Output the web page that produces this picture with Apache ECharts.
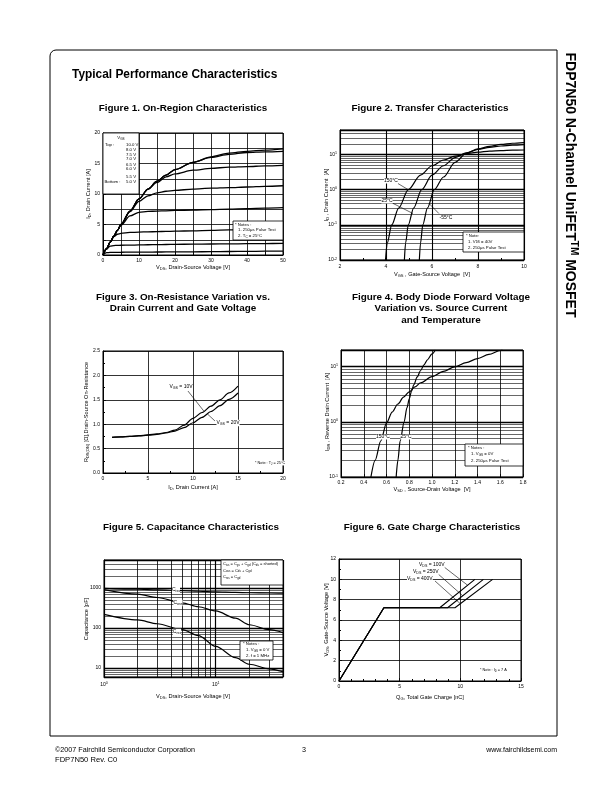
<!DOCTYPE html>
<html><head><meta charset="utf-8">
<script src="https://cdn.jsdelivr.net/npm/echarts@6/dist/echarts.min.js"></script>
<style>html,body{margin:0;padding:0;background:#fff}#c{width:612px;height:792px}</style>
</head><body><div id="c"></div>
<script>
// ---------------- DATA ----------------
// Figure 1: On-region characteristics (VDS [V] vs ID [A]) for each VGS
const f1Vds   = [0,1,2,3,4,5,7.5,10,12.5,15,17.5,20,25,30,35,40,45,50];
const f1Id10  = [0,1.05,2.1,3.1,4.05,5.0,7.2,9.2,10.8,12.1,13.1,14.0,15.2,16.1,16.7,17.0,17.2,17.4];
const f1Id8   = [0,1.05,2.1,3.1,4.05,5.0,7.2,9.2,10.8,12.1,13.1,14.0,15.2,16.0,16.5,16.8,16.9,17.0];
const f1Id75  = [0,1.05,2.1,3.1,4.05,5.0,7.2,9.2,10.8,11.9,12.8,13.3,13.9,14.2,14.4,14.5,14.6,14.7];
const f1Id7   = [0,1.05,2.1,3.1,4.05,5.0,7.1,8.8,9.7,10.2,10.45,10.6,10.8,10.95,11.05,11.15,11.25,11.35];
const f1Id65  = [0,1.05,2.1,3.1,4.05,4.9,6.4,7.0,7.15,7.2,7.25,7.3,7.38,7.45,7.52,7.6,7.68,7.75];
const f1Id6   = [0,1.05,2.1,3.0,3.4,3.55,3.7,3.75,3.8,3.83,3.87,3.9,3.97,4.05,4.12,4.2,4.28,4.35];
const f1Id55  = [0,1.0,1.45,1.55,1.58,1.6,1.62,1.65,1.68,1.7,1.72,1.75,1.78,1.8,1.83,1.85,1.88,1.9];
const f1Id5   = [0,0.38,0.42,0.43,0.44,0.45,0.46,0.47,0.48,0.49,0.5,0.5,0.52,0.55,0.57,0.6,0.62,0.65];
const f1Legend = ['10.0 V','8.0 V','7.5 V','7.0 V','6.5 V','6.0 V','5.5 V','5.0 V'];

// Figure 2: Transfer characteristics (VGS [V] vs ID [A])
const f2Vgs150 = [3.98,4.05,4.25,4.55,4.97,5.5,6,6.5,7,7.5,8,8.5,9,9.5,10];
const f2Id150  = [0.01,0.03,0.1,0.3,1,2.6,4.8,7,9,10.6,11.7,12.5,13,13.3,13.5];
const f2Vgs25  = [4.8,4.85,4.97,5.2,5.55,6,6.5,7,7.5,8,8.5,9,9.5,10];
const f2Id25   = [0.01,0.03,0.1,0.3,1,2.6,4.8,8.2,11.2,14,16,17.5,18.5,19.2];
const f2VgsM55 = [5.45,5.5,5.6,5.8,6.1,6.5,7,7.5,8,8.5,9,9.5,10];
const f2IdM55  = [0.01,0.03,0.1,0.3,1,2.3,6,11,14.5,17,19.5,21,22];

// Figure 3: On-resistance vs drain current
const f3Id    = [1,2,3,4,5,6,7,8,9,10,11,12,13,14,15];
const f3R10   = [0.73,0.74,0.75,0.765,0.78,0.80,0.83,0.88,0.98,1.12,1.24,1.37,1.50,1.64,1.78];
const f3R20   = [0.73,0.74,0.75,0.76,0.775,0.79,0.82,0.86,0.93,1.03,1.14,1.26,1.38,1.51,1.64];

// Figure 4: Body diode forward voltage (VSD [V] vs IDR [A])
const f4Vsd150 = [0.463,0.5,0.55,0.6,0.65,0.7,0.75,0.8,0.85,0.9,1.0,1.1,1.2,1.3,1.4,1.5,1.6,1.62];
const f4I150   = [0.1,0.2,0.45,0.95,1.5,2.1,2.8,3.5,4.3,5.1,6.6,8.2,9.9,11.8,14,16.6,19.6,20];
const f4Vsd25  = [0.685,0.70,0.72,0.755,0.78,0.80,0.82,0.84,0.87,0.9,0.93,0.96,1.0,1.03];
const f4I25    = [0.1,0.2,0.45,1.0,1.8,2.6,3.6,4.7,6.5,8.5,10.8,13.3,17,20];

// Figure 5: Capacitance (VDS [V] vs C [pF])
const f5Vds  = [1,2,3,5,7,10,15,20,30,40];
const f5Ciss = [980,930,900,860,830,800,780,760,750,740];
const f5Coss = [910,700,580,427,340,267,176,121,91,77];
const f5Crss = [220,160,128,91,65,35,18.3,12.5,9.6,8.1];

// Figure 6: Gate charge (QG [nC] vs VGS [V])
const f6Q100 = [0,3.7,8.3,11.2];
const f6Q250 = [0,3.7,8.95,11.9];
const f6Q400 = [0,3.7,9.56,12.66];
const f6Vgs  = [0,7.2,7.2,10];

// ---------------- CHART ----------------
const FONT = '"Liberation Sans", Arial, Helvetica, sans-serif';
const chart = echarts.init(document.getElementById('c'), null, {renderer:'canvas', width:612, height:792});

const gridBoxes = [
  {left:103, top:133, width:180, height:122},
  {left:340, top:130, width:184, height:130},
  {left:103, top:351, width:180, height:122},
  {left:341, top:350, width:182, height:127},
  {left:104, top:560, width:179, height:117},
  {left:339, top:559, width:182, height:122}
];
const grids = gridBoxes.map(g => Object.assign({show:true, borderColor:'#000', borderWidth:1, backgroundColor:'#fff', containLabel:false, outerBoundsMode:'none'}, g));

function merge(a, b) {
  const out = Object.assign({}, a);
  for (const k in b) {
    if (b[k] && typeof b[k] === 'object' && !Array.isArray(b[k]) && a[k] && typeof a[k] === 'object') out[k] = merge(a[k], b[k]);
    else out[k] = b[k];
  }
  return out;
}
const supRich = {p:{fontSize:3.6, fontFamily:FONT, color:'#000', padding:[0,0,3,0]}};
function axis(type, gi, o) {
  return merge({
    type, gridIndex: gi,
    axisLine: {show:true, onZero:false, lineStyle:{color:'#000', width:1}},
    axisTick: {show:true, inside:true, length:3, lineStyle:{color:'#000', width:0.8}},
    axisLabel: {color:'#000', fontSize:5, fontFamily:FONT, margin:3, rich: supRich, showMinLabel:true, showMaxLabel:true},
    splitLine: {show:true, lineStyle:{color:'#000', width:0.8}},
    minorTick: {show:false},
    minorSplitLine: {show:false}
  }, o);
}
function pow10(v) { const e = Math.log10(v); const r = Math.round(e); return Math.abs(e - r) < 1e-6 ? r : null; }
const supFmt = v => { const r = pow10(v); return r === null ? '' : '10{p|' + r + '}'; };
const plainPowFmt = v => { const r = pow10(v); return r === null ? '' : String(Math.round(v)); };

const xAxes = [
  axis('value', 0, {min:0, max:50, interval:5, axisLabel:{formatter: v => (Math.round(v) % 10 === 0 ? String(v) : '')}}),
  axis('value', 1, {min:2, max:10, interval:2, minorTick:{show:true, splitNumber:2, length:2, lineStyle:{color:'#000'}}, axisLabel:{margin:4}, splitLine:{lineStyle:{width:1.1}}}),
  axis('value', 2, {min:0, max:20, interval:5, minorTick:{show:true, splitNumber:2, length:2, lineStyle:{color:'#000'}}}),
  axis('value', 3, {min:0.2, max:1.8, interval:0.2, axisLabel:{formatter: v => v.toFixed(1)}}),
  axis('log', 4, {min:1, max:40, logBase:10, axisLabel:{formatter: supFmt, margin:4}, splitLine:{lineStyle:{width:1.2}}}),
  axis('value', 5, {min:0, max:15, interval:5, minorTick:{show:true, splitNumber:5, length:2, lineStyle:{color:'#000'}}})
];
const yAxes = [
  axis('value', 0, {min:0, max:20, interval:2.5, axisLabel:{formatter: v => (Math.abs(v % 5) < 1e-9 ? String(v) : '')}}),
  axis('log', 1, {min:0.01, max:50, logBase:10, axisLabel:{formatter: supFmt}, splitLine:{lineStyle:{width:1.3}}}),
  axis('value', 2, {min:0, max:2.5, interval:0.5, minorTick:{show:true, splitNumber:2, length:2, lineStyle:{color:'#000'}}, axisLabel:{formatter: v => v.toFixed(1)}}),
  axis('log', 3, {min:0.1, max:20, logBase:10, axisLabel:{formatter: supFmt}, splitLine:{lineStyle:{width:1.3}}}),
  axis('log', 4, {min:6, max:5000, logBase:10, axisLabel:{formatter: plainPowFmt}, splitLine:{lineStyle:{width:1.3}}}),
  axis('value', 5, {min:0, max:12, interval:2, minorTick:{show:true, splitNumber:2, length:2, lineStyle:{color:'#000'}}})
];

const series = [];
function addLine(gi, xs, ys, extra) {
  series.push(merge({
    type:'line', xAxisIndex:gi, yAxisIndex:gi,
    data: xs.map((x, i) => [x, ys[i]]),
    showSymbol:false, symbol:'none', smooth:0.3, smoothMonotone:'x',
    lineStyle:{color:'#000', width:1.2}, silent:true, z:5, animation:false,
    emphasis:{disabled:true}
  }, extra || {}));
}
function logMinors(min, max) {
  const out = [];
  for (let e = Math.floor(Math.log10(min)); e <= Math.ceil(Math.log10(max)); e++) {
    for (let k = 2; k <= 9; k++) {
      const v = +(k * Math.pow(10, e)).toPrecision(3);
      if (v > min * 1.0001 && v < max * 0.9999) out.push(v);
    }
  }
  return out;
}
function addMinorGrid(gi, dim, vals, anchor, width) {
  series.push({
    type:'line', xAxisIndex:gi, yAxisIndex:gi, data:[anchor], showSymbol:false, symbol:'none',
    lineStyle:{width:0}, silent:true, z:2, animation:false, emphasis:{disabled:true},
    markLine:{silent:true, symbol:['none','none'], label:{show:false}, animation:false,
      lineStyle:{color:'#000', width:width, type:'solid', opacity:1}, emphasis:{disabled:true},
      data: vals.map(v => ({[dim]: v}))}
  });
}

// Figure 1
[f1Id10, f1Id8, f1Id75, f1Id7, f1Id65, f1Id6, f1Id55, f1Id5].forEach(ys => addLine(0, f1Vds, ys, {lineStyle:{width:1.3}}));
// Figure 2
addMinorGrid(1, 'yAxis', logMinors(0.01, 50), [2, 0.01], 0.6);
addLine(1, f2Vgs150, f2Id150);
addLine(1, f2Vgs25, f2Id25);
addLine(1, f2VgsM55, f2IdM55);
// Figure 3
addLine(2, f3Id, f3R10);
addLine(2, f3Id, f3R20);
// Figure 4
addMinorGrid(3, 'yAxis', logMinors(0.1, 20), [0.2, 0.1], 0.6);
addLine(3, f4Vsd150, f4I150);
addLine(3, f4Vsd25, f4I25);
// Figure 5
addMinorGrid(4, 'yAxis', logMinors(6, 5000), [1, 6], 0.6);
addMinorGrid(4, 'xAxis', logMinors(1, 40), [1, 6], 0.8);
addLine(4, f5Vds, f5Ciss);
addLine(4, f5Vds, f5Coss);
addLine(4, f5Vds, f5Crss);
// Figure 6
[f6Q100, f6Q250, f6Q400].forEach(xs => addLine(5, xs, f6Vgs, {smooth:false, lineStyle:{width:1.1}}));

chart.setOption({
  animation:false,
  backgroundColor:'#fff',
  textStyle:{fontFamily:FONT},
  grid: grids, xAxis: xAxes, yAxis: yAxes, series
});

// ---------------- ANNOTATIONS ----------------
function richFor(fs) {
  return {
    s:{fontSize:fs*0.72, fontFamily:FONT, fill:'#000', padding:[fs*0.5,0,0,0]},
    p:{fontSize:fs*0.72, fontFamily:FONT, fill:'#000', padding:[0,0,fs*0.5,0]}
  };
}
function richBold(fs) {
  const r = richFor(fs);
  r.p.fontWeight = 'bold'; r.s.fontWeight = 'bold';
  return r;
}
function txt(x, y, text, fs, o) {
  o = o || {};
  return {
    type:'text', x:x, y:y, rotation:o.rot || 0, z:100, silent:true,
    style:{text:text, x:0, y:0, fontSize:fs, fontFamily:FONT, fontWeight:o.bold ? 'bold' : 'normal',
      fill:'#000', align:o.align || 'left', verticalAlign:o.va || 'middle',
      backgroundColor:o.bg, padding:o.pad, rich:o.bold ? richBold(fs) : richFor(fs)}
  };
}
function box(x, y, w, h, r) {
  return {type:'rect', z:90, silent:true, shape:{x:x, y:y, width:w, height:h, r:r || 0},
    style:{fill:'#fff', stroke:'#000', lineWidth:0.8}};
}
function lineP(p1, p2, w) {
  return {type:'line', z:95, silent:true, shape:{x1:p1[0], y1:p1[1], x2:p2[0], y2:p2[1]},
    style:{stroke:'#000', lineWidth:w || 0.6}};
}
const D = (gi, x, y) => chart.convertToPixel({gridIndex: gi}, [x, y]);
const ROT = Math.PI / 2;
const g = [];

// page frame and headings
g.push({type:'rect', z:1, silent:true, shape:{x:50, y:50, width:507, height:686, r:[6,0,0,0]},
  style:{fill:'none', stroke:'#000', lineWidth:1}});
g.push(txt(72, 75, 'Typical Performance Characteristics', 11.9, {bold:true}));
g.push(txt(570, 185, 'FDP7N50 N-Channel UniFET{p|TM} MOSFET', 14, {bold:true, rot:-ROT, align:'center'}));

const figTitles = [
  [183, 108, ['Figure 1. On-Region Characteristics']],
  [430, 108, ['Figure 2. Transfer Characteristics']],
  [183, 297, ['Figure 3. On-Resistance Variation vs.', 'Drain Current and Gate Voltage']],
  [441, 297, ['Figure 4. Body Diode Forward Voltage', 'Variation vs. Source Current', 'and Temperature']],
  [191, 527, ['Figure 5. Capacitance Characteristics']],
  [432, 527, ['Figure 6. Gate Charge Characteristics']]
];
figTitles.forEach(([x, y, lines]) => lines.forEach((t, i) => g.push(txt(x, y + i * 11.5, t, 9.9, {bold:true, align:'center'}))));

// axis names
const AN = 5.6;
g.push(txt(88, 194, 'I{s|D}, Drain Current [A]', AN, {rot:ROT, align:'center'}));
g.push(txt(193, 267, 'V{s|DS}, Drain-Source Voltage [V]', AN, {align:'center'}));
g.push(txt(326, 195, 'I{s|D} , Drain Current  [A]', AN, {rot:ROT, align:'center'}));
g.push(txt(432, 274, 'V{s|GS} , Gate-Source Voltage  [V]', AN, {align:'center'}));
g.push(txt(86, 412, 'R{s|DS(ON)} [Ω],Drain-Source On-Resistance', AN, {rot:ROT, align:'center'}));
g.push(txt(193, 487, 'I{s|D}, Drain Current [A]', AN, {align:'center'}));
g.push(txt(327, 412, 'I{s|DR} , Reverse Drain Current  [A]', AN, {rot:ROT, align:'center'}));
g.push(txt(432, 489, 'V{s|SD} , Source-Drain Voltage  [V]', AN, {align:'center'}));
g.push(txt(86, 619, 'Capacitance [pF]', AN, {rot:ROT, align:'center'}));
g.push(txt(193, 696, 'V{s|DS}, Drain-Source Voltage [V]', AN, {align:'center'}));
g.push(txt(326, 620, 'V{s|GS}, Gate-Source Voltage [V]', AN, {rot:ROT, align:'center'}));
g.push(txt(430, 697, 'Q{s|G}, Total Gate Charge [nC]', AN, {align:'center'}));

const NF = 4.3;
// Fig 1 legend + notes
g.push(box(103, 133, 36, 61));
g.push(txt(121, 138, 'V{s|GS}', NF, {align:'center'}));
g.push(txt(105, 145, 'Top :', NF));
const f1LegY = [145, 149.5, 155, 158.8, 165, 169, 177, 182.3];
f1Legend.forEach((t, i) => g.push(txt(126, f1LegY[i], t, NF)));
g.push(txt(104.5, 182.3, 'Bottom :', NF));
g.push(box(233, 221, 50, 19));
g.push(txt(235, 224.5, '* Notes :', NF));
g.push(txt(238, 230, '1. 250μs Pulse Test', NF));
g.push(txt(238, 236, '2. T{s|C} = 25°C', NF));

// Fig 2 labels + notes
g.push(txt(391, 181, '150°C', 5, {align:'center', bg:'#fff'}));
g.push(lineP(D(1, 4.52, 1.5), D(1, 4.97, 1.0)));
g.push(txt(387, 201, '25°C', 5, {align:'center', bg:'#fff'}));
g.push(lineP(D(1, 4.3, 0.41), D(1, 5.17, 0.21)));
g.push(txt(446, 218, '-55°C', 5, {align:'center', bg:'#fff'}));
g.push(lineP(D(1, 6.3, 0.21), D(1, 5.88, 0.4)));
g.push(box(463, 232, 61, 20));
g.push(txt(466, 235.5, '* Note:', NF));
g.push(txt(468, 241.5, '1. V{s|DS} = 40V', NF));
g.push(txt(468, 247.5, '2. 250μs Pulse Test', NF));

// Fig 3 labels
g.push(txt(181, 387, 'V{s|GS} = 10V', 5, {align:'center', bg:'#fff'}));
g.push(lineP(D(2, 9.44, 1.68), D(2, 11.2, 1.27)));
g.push(txt(228, 423, 'V{s|GS} = 20V', 5, {align:'center', bg:'#fff'}));
g.push(lineP(D(2, 12.44, 1.066), D(2, 11.6, 1.21)));
g.push(txt(255, 463, '* Note : T{s|J} = 25°C', 3.8, {bg:'#fff'}));

// Fig 4 labels + notes
g.push(txt(383, 437, '150°C', 5, {align:'center', bg:'#fff'}));
g.push(txt(406, 437, '25°C', 5, {align:'center', bg:'#fff'}));
g.push(box(465, 444, 58, 22));
g.push(txt(468, 448, '* Notes :', NF));
g.push(txt(471, 454, '1. V{s|GS} = 0V', NF));
g.push(txt(471, 460.5, '2. 250μs Pulse Test', NF));

// Fig 5 labels, legend, notes
g.push(txt(176, 590, 'C{s|iss}', 5, {align:'center', bg:'#fff'}));
g.push(txt(178, 603, 'C{s|oss}', 5, {align:'center', bg:'#fff'}));
g.push(txt(177, 632, 'C{s|rss}', 5, {align:'center', bg:'#fff'}));
g.push(box(221, 560, 62, 25));
g.push(txt(223, 564, 'C{s|iss} = C{s|gs} + C{s|gd} (C{s|ds} = shorted)', 4));
g.push(txt(223, 570.5, 'C{s|oss} = C{s|ds} + C{s|gd}', 4));
g.push(txt(223, 577, 'C{s|rss} = C{s|gd}', 4));
g.push(box(240, 641, 33, 19));
g.push(txt(243, 644, '* Notes :', NF));
g.push(txt(246, 650, '1. V{s|GS} = 0 V', NF));
g.push(txt(246, 656, '2. f = 1 MHz', NF));

// Fig 6 labels
g.push(txt(419, 565, 'V{s|DS} = 100V', 5, {bg:'#fff'}));
g.push(lineP(D(5, 8.57, 11.3), D(5, 10.6, 9.42)));
g.push(txt(413, 572, 'V{s|DS} = 250V', 5, {bg:'#fff'}));
g.push(lineP(D(5, 8.08, 10.62), D(5, 10.2, 8.38)));
g.push(txt(407, 579, 'V{s|DS} = 400V', 5, {bg:'#fff'}));
g.push(lineP(D(5, 7.91, 9.84), D(5, 10.0, 7.6)));
g.push(txt(480, 670, '* Note : I{s|D} = 7 A', 3.8, {bg:'#fff'}));

// footer
g.push(txt(55, 750, '©2007 Fairchild Semiconductor Corporation', 7.2));
g.push(txt(55, 760, 'FDP7N50 Rev. C0', 7.6));
g.push(txt(304, 750, '3', 7.2, {align:'center'}));
g.push(txt(557, 750, 'www.fairchildsemi.com', 7, {align:'right'}));

chart.setOption({graphic:{elements:g}});
</script></body></html>
